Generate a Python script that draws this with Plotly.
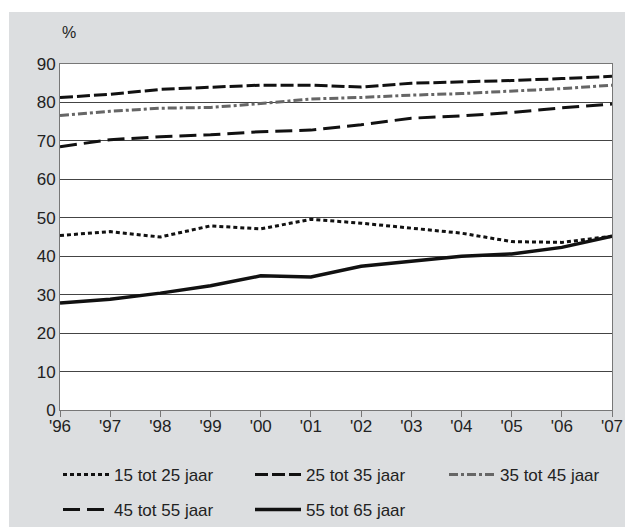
import plotly.graph_objects as go

# Arbeidsdeelname naar leeftijd, 1996-2007 (%)
years = list(range(1996, 2008))
year_labels = ["'96", "'97", "'98", "'99", "'00", "'01", "'02", "'03", "'04", "'05", "'06", "'07"]

age_15_25 = [45.4, 46.4, 45.0, 47.9, 47.1, 49.6, 48.6, 47.3, 46.0, 43.8, 43.6, 45.2]
age_25_35 = [81.3, 82.1, 83.4, 83.9, 84.5, 84.5, 84.0, 85.0, 85.3, 85.7, 86.2, 86.8]
age_35_45 = [76.6, 77.7, 78.5, 78.7, 79.7, 80.9, 81.3, 81.9, 82.3, 82.9, 83.6, 84.5]
age_45_55 = [68.5, 70.3, 71.1, 71.6, 72.4, 72.8, 74.2, 75.9, 76.5, 77.4, 78.6, 79.6]
age_55_65 = [27.8, 28.8, 30.4, 32.3, 34.9, 34.6, 37.4, 38.8, 40.0, 40.6, 42.3, 45.2]

FONT = "Liberation Sans, Arial, sans-serif"
GRAY_BG = "#dcdee0"
W, H = 625, 527

series = [
    ("15 tot 25 jaar", age_15_25, "#111111", "4px,3px", 3),
    ("25 tot 35 jaar", age_25_35, "#111111", "13px,4px", 3),
    ("35 tot 45 jaar", age_35_45, "#666666", "9px,3px,3px,3px", 3),
    ("45 tot 55 jaar", age_45_55, "#111111", "17px,7px", 3),
    ("55 tot 65 jaar", age_55_65, "#111111", "solid", 3.5),
]

# one legend per entry so the 3 + 2 grid sits where the original has it
# (left edge px, centre px)
legend_pos = [(58, 475), (250, 475), (444, 475), (58, 510), (250, 510)]

fig = go.Figure()
legends = {}
for i, (name, vals, col, dash, w) in enumerate(series):
    key = "legend" if i == 0 else "legend%d" % (i + 1)
    fig.add_trace(go.Scatter(x=years, y=vals, name=name, mode="lines",
                             line=dict(color=col, dash=dash, width=w),
                             legend=key))
    lx, ly = legend_pos[i]
    legends[key] = dict(xref="container", yref="container",
                        x=lx / W, y=1 - ly / H, xanchor="left", yanchor="middle",
                        bgcolor="rgba(0,0,0,0)", itemwidth=46,
                        font=dict(family=FONT, size=17, color="#222"))

fig.update_layout(
    width=W, height=H,
    margin=dict(l=60, r=13, t=64, b=117, autoexpand=False),
    paper_bgcolor="white",
    plot_bgcolor="white",
    font=dict(family=FONT, size=17, color="#222"),
    showlegend=True,
    xaxis=dict(range=[1996, 2007], tickvals=years, ticktext=year_labels,
               showgrid=False, zeroline=False,
               showline=True, linecolor="#777", linewidth=1, mirror=True,
               ticks="outside", ticklen=6, tickcolor="#777",
               ticklabelstandoff=-5,
               tickfont=dict(size=17, color="#222")),
    yaxis=dict(range=[0, 90], dtick=10, showgrid=True, gridcolor="#444", gridwidth=1,
               zeroline=False, showline=True, linecolor="#777", linewidth=1, mirror=True,
               ticks="", tickfont=dict(size=17, color="#222")),
    annotations=[dict(text="%", xref="paper", yref="paper", x=0.0, y=1.09,
                      xanchor="left", yanchor="middle", showarrow=False,
                      font=dict(family=FONT, size=16, color="#222"))],
    shapes=[
        # grey panel behind the chart
        dict(type="rect", xref="paper", yref="paper", x0=-0.0924, x1=1.2,
             y0=-0.6, y1=1.1503, fillcolor=GRAY_BG, line=dict(width=0), layer="below"),
        dict(type="rect", xref="paper", yref="paper", x0=0, x1=1, y0=0, y1=1,
             fillcolor="white", line=dict(width=0), layer="below"),
    ],
)
fig.update_layout(legends)

fig.write_html("out.html", config={"displayModeBar": False},
               post_script="document.body.style.margin='0';")
